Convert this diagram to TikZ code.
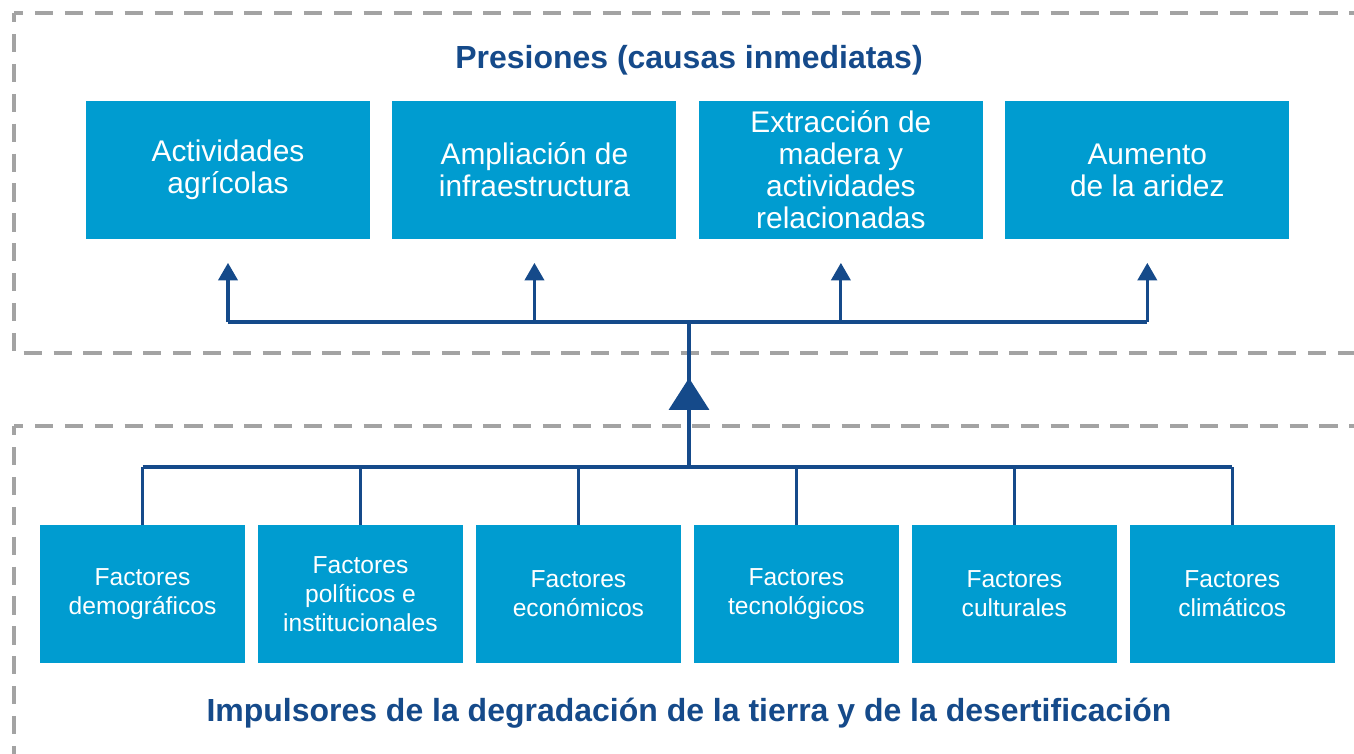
\documentclass[tikz,border=0pt]{standalone}
\usepackage{fontspec}
\setmainfont{Liberation Sans}
\usepackage{xcolor}
\usepackage{tikz}
\usetikzlibrary{arrows.meta,positioning}
\definecolor{DesBlue}{HTML}{009CD0}
\definecolor{DesNavy}{HTML}{154A8A}
\definecolor{DesGray}{HTML}{A3A3A3}

\begin{document}
\begin{tikzpicture}[x=0.02cm, y=-0.02cm, every node/.style={text=white,align=center}, pb/.style={fill=DesBlue,minimum width=5.68cm,minimum height=2.76cm,inner sep=0pt,outer sep=0pt,font=\fontsize{17}{18.2}\selectfont}, fb/.style={fill=DesBlue,minimum width=4.1cm,minimum height=2.76cm,inner sep=0pt,outer sep=0pt,font=\fontsize{14}{16.4}\selectfont}, ttl/.style={text=DesNavy,font=\fontsize{18.2}{20}\selectfont\bfseries}, frame/.style={DesGray,line width=1.9pt,dash pattern=on 10.4pt off 6.6pt,dash phase=5pt}, ln/.style={DesNavy,line width=1.8pt}, up/.style={ln,-{Triangle[width=11pt,length=10pt]},shorten >=13.6pt}]
\useasboundingbox (0,0) rectangle (1354,753);
% dashed frames
\draw[frame] (14,13)--(1360,13);\draw[frame] (14,13)--(14,353)--(1360,353);
\draw[frame] (14,426)--(1360,426);\draw[frame] (14,426)--(14,760);
% presiones
\node[ttl] (t1) at (689,60) {Presiones (causas inmediatas)};
\node[pb] (p1) at (228,170) {Actividades\\agrícolas};
\node[pb,right=0.45cm of p1] (p2) {Ampliación de\\infraestructura};
\node[pb,right=0.45cm of p2] (p3) {Extracción de\\madera y\\actividades\\relacionadas};
\node[pb,right=0.45cm of p3] (p4) {Aumento\\de la aridez};
% impulsores
\node[fb] (f1) at (142.5,594) {Factores\\demográficos};
\node[fb,right=0.26cm of f1] (f2) {Factores\\políticos e\\institucionales};
\node[fb,right=0.26cm of f2] (f3) {Factores\\económicos};
\node[fb,right=0.26cm of f3] (f4) {Factores\\tecnológicos};
\node[fb,right=0.26cm of f4] (f5) {Factores\\culturales};
\node[fb,right=0.26cm of f5] (f6) {Factores\\climáticos};
\node[ttl] (t2) at (689,713) {Impulsores de la degradación de la tierra y de la desertificación};
% connectors
\coordinate (hub) at (689,322);\coordinate (base) at (689,467);\coordinate (tip) at (689,378);
\draw[ln] (p1.south |- hub)--(p4.south |- hub);
\foreach \i in {1,...,4} \draw[up] (p\i.south |- hub)--(p\i.south);
\draw[ln] (base)--(hub);\draw[ln,-{Triangle[width=22.7pt,length=18.1pt]}] (base)--(tip);
\draw[ln] (f1.north |- base)--(f6.north |- base);
\foreach \i in {1,...,6} \draw[ln] (f\i.north |- base)--(f\i.north);
\end{tikzpicture}
\end{document}
